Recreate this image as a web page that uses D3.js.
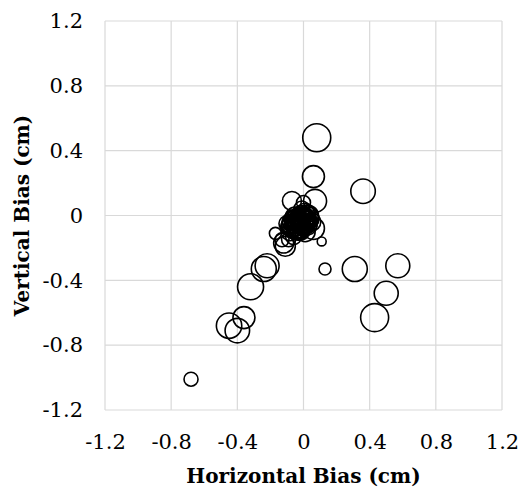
<!DOCTYPE html>
<html lang="en">
<head>
<meta charset="utf-8">
<script src="https://d3js.org/d3.v7.min.js"></script>
<style>
  body { margin: 0; background: #fff; }
</style>
</head>
<body>
<div id="chart"></div>
<script>
// horizontal bias, vertical bias (cm) and bubble size for each point
const xBias = [0.08, 0.06, 0.36, 0.07, -0.07, 0.00, -0.17, 0.11, 0.13, 0.31, 0.57, 0.50, 0.43,
  -0.24, -0.22, -0.32, -0.36, -0.45, -0.40, -0.68,
  0.03, 0.00, -0.02, -0.04, 0.01, -0.01, 0.04, -0.06, -0.08, -0.03, 0.02, 0.06,
  -0.06, -0.09, -0.12, -0.11, -0.13, -0.05, 0.00, -0.10, -0.02, 0.01,
  -0.03, 0.02, -0.05, 0.00, -0.07, 0.03, -0.01, -0.04, 0.05, -0.02, -0.06, 0.01,
  -0.08, -0.05, -0.03, 0.00, 0.02, -0.07, -0.04, -0.01, 0.01, -0.06, -0.09, -0.02,
  0.03, -0.05, -0.03, 0.00, -0.08, -0.04, 0.02, -0.01, -0.06, -0.03];
const yBias = [0.48, 0.24, 0.15, 0.09, 0.09, 0.08, -0.11, -0.16, -0.33, -0.33, -0.31, -0.48, -0.63,
  -0.33, -0.31, -0.44, -0.63, -0.68, -0.71, -1.01,
  0.00, -0.02, -0.04, -0.06, 0.02, 0.04, -0.02, -0.03, -0.04, -0.09, -0.06, -0.08,
  -0.13, -0.15, -0.17, -0.19, -0.15, -0.10, -0.08, -0.05, -0.01, -0.04,
  -0.02, -0.03, -0.07, -0.05, -0.09, -0.01, -0.06, -0.03, -0.04, -0.08, -0.06, -0.10,
  -0.06, -0.05, -0.07, -0.02, 0.01, -0.08, -0.04, -0.05, -0.03, -0.02, -0.07, -0.09,
  -0.05, -0.01, -0.04, -0.06, -0.10, -0.08, -0.02, 0.00, -0.04, -0.03];
const bubbleSize = [196, 121, 150, 132, 90, 49, 36, 20, 36, 156, 144, 144, 196,
  156, 144, 169, 121, 161, 150, 49,
  100, 121, 100, 100, 81, 64, 81, 81, 64, 100, 100, 121,
  64, 49, 100, 100, 49, 64, 64, 64, 100, 121,
  81, 100, 81, 121, 64, 100, 81, 121, 81, 100, 64, 100,
  81, 100, 121, 100, 81, 81, 100, 121, 100, 81, 64, 100,
  81, 100, 121, 100, 81, 100, 81, 100, 121, 81];
const ticks = [-1.2, -0.8, -0.4, 0, 0.4, 0.8, 1.2];

const width = 525, height = 494;
const margin = { left: 105, right: 23, top: 21, bottom: 84 };
const serif = "DejaVu Serif";

const svg = d3.select("#chart").append("svg")
  .attr("width", width)
  .attr("height", height);

const x = d3.scaleLinear().domain([-1.2, 1.2]).range([margin.left, width - margin.right]);
const y = d3.scaleLinear().domain([-1.2, 1.2]).range([height - margin.bottom, margin.top]);
const r = d3.scaleSqrt().domain([0, 196]).range([0, 14]);

// grid
svg.append("g")
  .selectAll("line")
  .data(ticks)
  .enter().append("line")
  .attr("x1", d => x(d)).attr("x2", d => x(d))
  .attr("y1", y(-1.2)).attr("y2", y(1.2))
  .attr("stroke", "#d9d9d9").attr("stroke-width", 1.2);
svg.append("g")
  .selectAll("line")
  .data(ticks)
  .enter().append("line")
  .attr("y1", d => y(d)).attr("y2", d => y(d))
  .attr("x1", x(-1.2)).attr("x2", x(1.2))
  .attr("stroke", "#d9d9d9").attr("stroke-width", 1.2);

// axes: labels only
const fmt = d => d3.format("~g")(d).replace("−", "-");
const xAxis = d3.axisBottom(x).tickValues(ticks).tickSize(0).tickPadding(24).tickFormat(fmt);
const yAxis = d3.axisLeft(y).tickValues(ticks).tickSize(0).tickPadding(22).tickFormat(fmt);

const gx = svg.append("g")
  .attr("transform", "translate(0," + y(-1.2) + ")")
  .call(xAxis);
const gy = svg.append("g")
  .attr("transform", "translate(" + x(-1.2) + ",0)")
  .call(yAxis);
[gx, gy].forEach(g => {
  g.attr("font-family", serif).attr("font-size", 21);
  g.select(".domain").remove();
  g.selectAll("text").attr("fill", "#000");
});

// bubbles
const pts = xBias.map((d, i) => ({ x: d, y: yBias[i], s: bubbleSize[i] }));
svg.append("g")
  .selectAll("circle")
  .data(pts)
  .enter().append("circle")
  .attr("cx", d => x(d.x))
  .attr("cy", d => y(d.y))
  .attr("r", d => r(d.s))
  .attr("fill", "none")
  .attr("stroke", "#000")
  .attr("stroke-width", 1.6);

// axis titles
svg.append("text")
  .attr("x", x(0))
  .attr("y", 483)
  .attr("text-anchor", "middle")
  .attr("font-family", serif)
  .attr("font-size", 20)
  .attr("font-weight", "bold")
  .text("Horizontal Bias (cm)");
svg.append("text")
  .attr("transform", "translate(29," + y(0) + ") rotate(-90)")
  .attr("text-anchor", "middle")
  .attr("font-family", serif)
  .attr("font-size", 20)
  .attr("font-weight", "bold")
  .text("Vertical Bias (cm)");
</script>
</body>
</html>
